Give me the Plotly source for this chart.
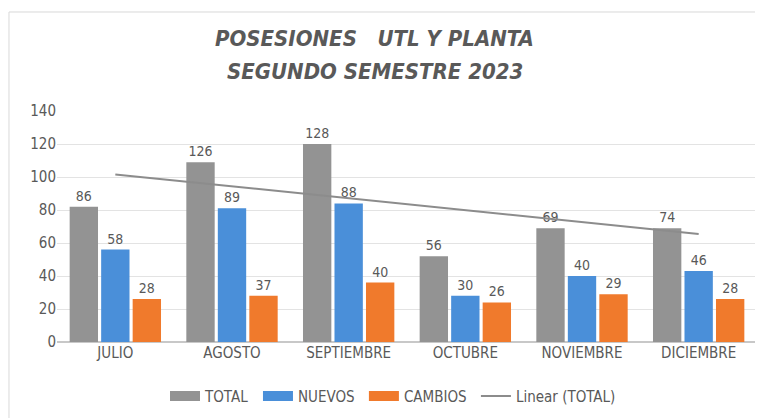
"""Posesiones UTL y planta - segundo semestre 2023"""
import numpy as np
import plotly.graph_objects as go

meses = ['JULIO', 'AGOSTO', 'SEPTIEMBRE', 'OCTUBRE', 'NOVIEMBRE', 'DICIEMBRE']

# bar heights as drawn
total = [82, 109, 120, 52, 69, 69]
nuevos = [56, 81, 84, 28, 40, 43]
cambios = [26, 28, 36, 24, 29, 26]

# numbers printed above the bars
total_lbl = [86, 126, 128, 56, 69, 74]
nuevos_lbl = [58, 89, 88, 30, 40, 46]
cambios_lbl = [28, 37, 40, 26, 29, 28]

titulo = ['POSESIONES   UTL Y PLANTA', 'SEGUNDO SEMESTRE 2023']

FONT = "DejaVu Sans Condensed, Roboto, sans-serif"
TXT = '#595959'

# linear trend of TOTAL
xs = np.arange(len(meses))
slope, icpt = np.polyfit(xs, total, 1)
trend = slope * xs + icpt

fig = go.Figure()
series = [
    ('TOTAL', total, total_lbl, '#939393'),
    ('NUEVOS', nuevos, nuevos_lbl, '#4a8fd9'),
    ('CAMBIOS', cambios, cambios_lbl, '#f07a2c'),
]
for name, vals, lbls, col in series:
    fig.add_trace(go.Bar(
        x=meses, y=vals, name=name, showlegend=False,
        text=[str(v) for v in lbls], textposition='outside',
        textfont=dict(size=14, color=TXT, family=FONT),
        cliponaxis=False,
        marker=dict(color=col, line=dict(width=0)),
    ))

# legend entries with wide swatches like Excel
for name, vals, lbls, col in series:
    fig.add_trace(go.Scatter(
        x=[None], y=[None], mode='lines', name=name + ' ',
        line=dict(color=col, width=10),
    ))

fig.add_trace(go.Scatter(
    x=meses, y=trend, mode='lines', name='Linear (TOTAL)',
    line=dict(color='#8c8c8c', width=2),
))

# two title lines as annotations (Excel-like line spacing)
for txt, yy in zip(titulo, [1.316, 1.169]):
    fig.add_annotation(
        text='<b><i>' + txt + '</i></b>', xref='paper', yref='paper',
        x=0.454, y=yy, xanchor='center', yanchor='middle', showarrow=False,
        font=dict(size=22, color=TXT, family=FONT),
    )

fig.update_layout(
    width=755, height=410,
    margin=dict(l=49, r=6, t=103, b=76, autoexpand=False),
    paper_bgcolor='white', plot_bgcolor='white',
    font=dict(family=FONT, color=TXT, size=14),
    barmode='group', bargap=0.19, bargroupgap=0.1,
    showlegend=True,
    legend=dict(orientation='h', x=0.48, xanchor='center', y=-0.235, yanchor='middle',
                font=dict(size=15, color=TXT), itemwidth=30, tracegroupgap=0),
    shapes=[dict(type='rect', xref='paper', yref='paper',
                 x0=-0.0686, x1=1.02, y0=-0.4, y1=1.4286,
                 line=dict(color='#d9d9d9', width=1))],
)
fig.update_yaxes(range=[0, 140], dtick=20, showgrid=True, gridcolor='#e3e3e3',
                 zeroline=True, zerolinecolor='#c8c8c8', ticks='', showline=False,
                 automargin=False, tickfont=dict(size=15, color=TXT))
fig.update_xaxes(showgrid=False, showline=False, ticks='', automargin=False,
                 tickfont=dict(size=15, color=TXT))

fig.write_html("out.html")
